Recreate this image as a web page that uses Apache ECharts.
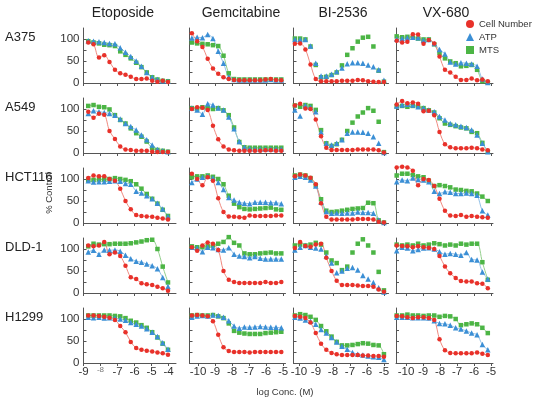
<!DOCTYPE html>
<html lang="en">
<head>
    <meta charset="UTF-8">
    <title>Dose response panels</title>
    <style>
        html, body {
            margin: 0;
            padding: 0;
            background: #fff;
        }

        #main {
            width: 541px;
            height: 399px;
        }
    </style>
</head>
<body>
<div id="main"></div>
<script src="https://cdn.jsdelivr.net/npm/echarts@6/dist/echarts.min.js"></script>
<script>
    // log concentration of each dilution, one list per drug column
    const xEto = [-8.72, -8.41, -8.09, -7.78, -7.47, -7.15, -6.84, -6.53, -6.22, -5.90, -5.59, -5.28, -4.96, -4.65, -4.34, -4.03]
    const xGem = [-10.36, -10.05, -9.74, -9.43, -9.12, -8.81, -8.50, -8.19, -7.88, -7.57, -7.27, -6.96, -6.65, -6.34, -6.03, -5.72, -5.41, -5.10]
    const xBi = [-10.24, -9.93, -9.62, -9.32, -9.01, -8.70, -8.39, -8.08, -7.78, -7.47, -7.16, -6.85, -6.54, -6.24, -5.93, -5.62, -5.31, -5.00]
    const xVx = [-10.55, -10.23, -9.92, -9.60, -9.29, -8.97, -8.66, -8.34, -8.03, -7.71, -7.40, -7.08, -6.77, -6.45, -6.14, -5.82, -5.51, -5.19]

    const drugs = ['Etoposide', 'Gemcitabine', 'BI-2536', 'VX-680']
    const cellLines = ['A375', 'A549', 'HCT116', 'DLD-1', 'H1299']

    // % control, per cell line: [Etoposide, Gemcitabine, BI-2536, VX-680]
    const a375Cell = [
        [92, 88, 58, 63, 48, 30, 22, 19, 14, 9, 9, 10, 5, 3, 5, 2],
        [113, 95, 82, 55, 33, 21, 13, 9, 7, 6, 6, 6, 6, 6, 8, 9, 7, 6],
        [89, 90, 76, 42, 9, 4, 4, 4, 4, 5, 5, 5, 7, 6, 4, 3, 2, 2],
        [96, 92, 94, 111, 110, 89, 98, 90, 60, 30, 24, 14, 7, 7, 10, 6, 8, 4]
    ]
    const a375Atp = [
        [96, 95, 94, 92, 90, 89, 80, 70, 60, 50, 38, 24, 13, 8, 5, 4],
        [102, 104, 103, 110, 101, 72, 45, 14, 8, 7, 7, 7, 7, 7, 7, 8, 7, 7],
        [99, 99, 99, 84, 45, 16, 16, 20, 26, 34, 44, 46, 46, 45, 41, 37, 30, 6],
        [100, 101, 103, 104, 103, 97, 99, 90, 76, 66, 48, 43, 46, 45, 43, 38, 9, 1]
    ]
    const a375Mts = [
        [95, 92, 90, 87, 86, 84, 72, 64, 56, 46, 36, 24, 13, 8, 5, 4],
        [92, 90, 89, 88, 86, 84, 62, 22, 9, 8, 8, 8, 8, 8, 8, 8, 8, 8],
        [101, 101, 99, 83, 41, 13, 14, 18, 24, 40, 64, 79, 94, 103, 105, 83, 28, 3],
        [106, 104, 105, 103, 101, 99, 99, 88, 68, 56, 49, 45, 38, 39, 41, 30, 4, 1]
    ]

    const a549Cell = [
        [94, 80, 89, 87, 50, 32, 15, 8, 7, 5, 5, 5, 3, 2, 2, 2],
        [100, 104, 103, 98, 62, 31, 15, 8, 6, 5, 5, 5, 5, 5, 6, 6, 5, 5],
        [108, 112, 101, 100, 76, 38, 12, 7, 7, 7, 7, 7, 8, 8, 8, 8, 6, 1],
        [110, 118, 113, 115, 112, 95, 96, 86, 48, 20, 13, 11, 11, 11, 12, 11, 8, 6]
    ]
    const a549Atp = [
        [90, 96, 94, 92, 90, 86, 77, 67, 60, 52, 41, 30, 18, 8, 5, 3],
        [102, 98, 88, 112, 109, 102, 98, 82, 55, 26, 13, 10, 9, 9, 9, 9, 9, 9],
        [98, 84, 108, 104, 94, 48, 22, 18, 22, 30, 45, 48, 48, 47, 45, 37, 22, 1],
        [107, 109, 111, 109, 105, 102, 98, 94, 83, 75, 67, 64, 61, 58, 52, 41, 22, 3]
    ]
    const a549Mts = [
        [107, 109, 105, 104, 99, 86, 75, 67, 56, 45, 37, 26, 11, 7, 5, 3],
        [102, 101, 104, 102, 100, 102, 97, 86, 58, 25, 13, 12, 12, 12, 12, 12, 12, 12],
        [108, 105, 109, 107, 98, 52, 22, 16, 20, 30, 50, 69, 83, 92, 102, 96, 71, 2],
        [106, 107, 105, 107, 106, 102, 97, 92, 79, 67, 64, 61, 58, 56, 48, 45, 23, 3]
    ]

    const hct116Cell = [
        [102, 108, 106, 106, 100, 96, 78, 50, 31, 18, 16, 15, 14, 12, 10, 8],
        [112, 100, 86, 104, 96, 56, 25, 15, 14, 13, 12, 17, 16, 16, 16, 16, 17, 17],
        [106, 110, 108, 103, 88, 45, 14, 8, 8, 8, 8, 8, 9, 9, 9, 8, 3, 1],
        [126, 128, 126, 119, 86, 100, 98, 84, 55, 28, 17, 16, 18, 14, 16, 14, 13, 12]
    ]
    const hct116Atp = [
        [96, 93, 94, 94, 95, 96, 95, 90, 88, 72, 68, 62, 55, 45, 32, 15],
        [92, 100, 104, 106, 102, 92, 76, 58, 52, 47, 45, 44, 47, 47, 47, 46, 46, 44],
        [104, 106, 104, 98, 84, 47, 26, 22, 23, 22, 23, 23, 25, 24, 24, 22, 7, 1],
        [94, 98, 96, 102, 99, 98, 94, 72, 67, 71, 70, 67, 67, 68, 67, 63, 28, 18]
    ]
    const hct116Mts = [
        [98, 98, 99, 99, 100, 102, 100, 98, 95, 88, 78, 66, 55, 44, 30, 16],
        [104, 106, 106, 108, 105, 100, 88, 62, 44, 36, 32, 31, 32, 33, 34, 35, 31, 30],
        [108, 110, 108, 102, 86, 54, 28, 25, 26, 28, 30, 32, 33, 34, 46, 45, 6, 1],
        [108, 112, 112, 109, 106, 104, 96, 84, 86, 84, 81, 76, 75, 73, 72, 67, 60, 50]
    ]

    const dld1Cell = [
        [108, 106, 108, 116, 88, 92, 84, 62, 36, 32, 22, 20, 18, 14, 11, 5],
        [104, 96, 108, 115, 112, 98, 50, 30, 25, 23, 23, 23, 23, 23, 25, 23, 23, 25],
        [102, 116, 107, 105, 110, 112, 80, 50, 28, 18, 18, 18, 17, 16, 16, 14, 8, 3],
        [108, 107, 106, 104, 106, 104, 103, 100, 84, 60, 45, 34, 27, 26, 26, 22, 21, 11]
    ]
    const dld1Atp = [
        [93, 97, 88, 98, 97, 98, 95, 86, 78, 72, 70, 66, 62, 55, 35, 15],
        [104, 102, 94, 104, 103, 99, 98, 103, 88, 84, 83, 80, 83, 79, 77, 77, 77, 77],
        [98, 104, 108, 104, 102, 100, 84, 68, 46, 50, 56, 58, 52, 40, 32, 24, 12, 2],
        [96, 104, 102, 96, 99, 102, 103, 100, 94, 88, 90, 88, 86, 92, 76, 75, 48, 32]
    ]
    const dld1Mts = [
        [106, 112, 110, 111, 111, 112, 112, 112, 113, 115, 117, 120, 121, 100, 60, 24],
        [106, 104, 104, 106, 108, 112, 116, 127, 114, 108, 90, 88, 88, 90, 91, 92, 90, 90],
        [108, 110, 108, 110, 114, 110, 92, 74, 68, 52, 60, 92, 112, 122, 108, 92, 48, 6],
        [110, 108, 110, 108, 112, 108, 110, 113, 111, 108, 110, 108, 112, 110, 112, 112, 70, 30]
    ]

    const h1299Cell = [
        [108, 108, 107, 105, 103, 98, 84, 70, 48, 34, 30, 28, 26, 24, 22, 19],
        [108, 109, 108, 106, 95, 64, 36, 27, 25, 25, 25, 24, 25, 25, 25, 25, 25, 25],
        [107, 105, 102, 92, 68, 44, 30, 23, 20, 18, 18, 18, 18, 17, 17, 16, 16, 14],
        [107, 106, 104, 102, 104, 104, 102, 98, 54, 29, 23, 22, 22, 22, 22, 24, 21, 18]
    ]
    const h1299Atp = [
        [104, 103, 104, 102, 103, 102, 100, 97, 92, 88, 84, 78, 70, 60, 46, 31],
        [104, 107, 108, 107, 109, 108, 104, 96, 84, 79, 82, 81, 82, 83, 82, 81, 81, 80],
        [104, 102, 98, 95, 88, 76, 68, 58, 48, 38, 31, 24, 20, 18, 16, 14, 13, 8],
        [104, 104, 104, 103, 103, 103, 102, 96, 90, 89, 86, 80, 77, 73, 68, 64, 42, 30]
    ]
    const h1299Mts = [
        [108, 108, 108, 108, 108, 107, 106, 102, 96, 92, 86, 80, 70, 58, 44, 30],
        [108, 109, 108, 108, 109, 106, 102, 90, 73, 69, 67, 66, 66, 66, 68, 69, 70, 71],
        [108, 111, 109, 105, 98, 84, 72, 60, 48, 40, 40, 41, 43, 45, 44, 41, 40, 20],
        [108, 108, 110, 108, 108, 107, 108, 108, 105, 107, 106, 100, 86, 88, 90, 88, 80, 68]
    ]

    const xTicksEto = [-9, -8, -7, -6, -5, -4]
    const xTicksOther = [-10, -9, -8, -7, -6, -5]
    const yTicks = [0, 25, 50, 75, 100]
    const yLabels = [0, 50, 100]

    const concs = [xEto, xGem, xBi, xVx]
    const cellData = [a375Cell, a549Cell, hct116Cell, dld1Cell, h1299Cell]
    const atpData = [a375Atp, a549Atp, hct116Atp, dld1Atp, h1299Atp]
    const mtsData = [a375Mts, a549Mts, hct116Mts, dld1Mts, h1299Mts]

    // bell shaped curves had no fitted line in the figure
    const noFit = ['0-2', '1-2', '3-2']

    // panel geometry (px)
    const colLeft = [83.5, 189.5, 293.5, 396]
    const colWidth = [92.5, 96, 95, 97]
    const xMin = [-9, -10.5, -10.32, -10.59]
    const pxPerDecade = 17

    const red = '#e8312a', blue = '#3b8fd5', green = '#4cb545'
    const axisColor = '#555'
    const font = 'Liberation Sans, Arial, Helvetica, sans-serif'

    let grids = [], xAxes = [], yAxes = [], series = []

    cellLines.forEach((cl, r) => {
        drugs.forEach((d, c) => {
            let i = r * 4 + c
            grids.push({left: colLeft[c], top: 28 + 70 * r, width: colWidth[c], height: 55})
            let ticks = c === 0 ? xTicksEto : xTicksOther
            xAxes.push({
                type: 'value',
                gridIndex: i,
                min: xMin[c],
                max: xMin[c] + colWidth[c] / pxPerDecade,
                splitLine: {show: false},
                axisLine: {onZero: false, lineStyle: {color: axisColor, width: 1}},
                axisTick: {customValues: ticks, length: 3, lineStyle: {color: axisColor}},
                axisLabel: {
                    show: r === 4,
                    customValues: ticks,
                    margin: 3,
                    fontSize: 11.5,
                    fontFamily: font,
                    color: '#333',
                    formatter: v => (c === 0 && v === -8) ? '{s|-8}' : String(v),
                    rich: {s: {fontSize: 8, color: '#777', fontFamily: font}}
                }
            })
            yAxes.push({
                type: 'value',
                gridIndex: i,
                min: 0,
                max: 125,
                splitLine: {show: false},
                axisLine: {onZero: false, lineStyle: {color: axisColor, width: 1}},
                axisTick: {customValues: yTicks, inside: true, length: 3, lineStyle: {color: axisColor}},
                axisLabel: {
                    show: c === 0,
                    customValues: yLabels,
                    margin: 4,
                    fontSize: 11.5,
                    fontFamily: font,
                    color: '#333'
                }
            })

            let xs = concs[c]
            let readouts = [
                {name: 'MTS', vals: mtsData[r][c], color: green, fit: '#93cf8c', symbol: 'rect', size: 4.5, z: 3},
                {name: 'ATP', vals: atpData[r][c], color: blue, fit: '#92c1e8', symbol: 'triangle', size: 5.5, z: 4},
                {name: 'Cell Number', vals: cellData[r][c], color: red, fit: '#f08a80', symbol: 'circle', size: 4.5, z: 5}
            ]
            readouts.forEach(rd => {
                let pts = xs.map((x, k) => [x, rd.vals[k]])
                let skipFit = rd.name !== 'Cell Number' && noFit.includes(r + '-' + c)
                if (!skipFit) {
                    series.push({
                        type: 'line',
                        name: rd.name + ' fit',
                        xAxisIndex: i,
                        yAxisIndex: i,
                        data: pts,
                        smooth: 0.35,
                        showSymbol: false,
                        symbol: 'none',
                        silent: true,
                        clip: false,
                        z: 1,
                        lineStyle: {width: 1, color: rd.fit}
                    })
                }
                series.push({
                    type: 'scatter',
                    name: rd.name,
                    xAxisIndex: i,
                    yAxisIndex: i,
                    data: pts,
                    symbol: rd.symbol,
                    symbolSize: rd.size,
                    clip: false,
                    z: rd.z,
                    itemStyle: {color: rd.color, opacity: 1}
                })
            })
        })
    })

    let texts = []
    const titleX = [123, 241, 343, 446]
    drugs.forEach((d, c) => {
        texts.push({
            type: 'text', x: titleX[c], y: 13,
            style: {text: d, fontSize: 14, fontFamily: font, fill: '#222', textAlign: 'center', textVerticalAlign: 'middle'}
        })
    })
    cellLines.forEach((cl, r) => {
        texts.push({
            type: 'text', x: 5, y: 37 + 70 * r,
            style: {text: cl, fontSize: 13, fontFamily: font, fill: '#222', textAlign: 'left', textVerticalAlign: 'middle'}
        })
    })
    texts.push({
        type: 'text', x: 49, y: 193, rotation: Math.PI / 2,
        style: {text: '% Control', fontSize: 9.5, fontFamily: font, fill: '#333', textAlign: 'center', textVerticalAlign: 'middle'}
    })
    texts.push({
        type: 'text', x: 285, y: 392,
        style: {text: 'log Conc. (M)', fontSize: 9.5, fontFamily: font, fill: '#333', textAlign: 'center', textVerticalAlign: 'middle'}
    })

    let myChart = echarts.init(document.querySelector('#main'), null, {renderer: 'canvas'})
    let option = {
        backgroundColor: '#fff',
        animation: false,
        textStyle: {fontFamily: font},
        legend: {
            orient: 'vertical',
            left: 466,
            top: 19,
            padding: 0,
            itemWidth: 8,
            itemHeight: 8,
            itemGap: 3,
            textStyle: {fontSize: 9.5, color: '#333', fontFamily: font},
            data: [
                {name: 'Cell Number', icon: 'circle', itemStyle: {color: red}},
                {name: 'ATP', icon: 'triangle', itemStyle: {color: blue}},
                {name: 'MTS', icon: 'rect', itemStyle: {color: green}}
            ]
        },
        grid: grids,
        xAxis: xAxes,
        yAxis: yAxes,
        series: series,
        graphic: texts
    }
    myChart.setOption(option)
</script>
</body>
</html>
